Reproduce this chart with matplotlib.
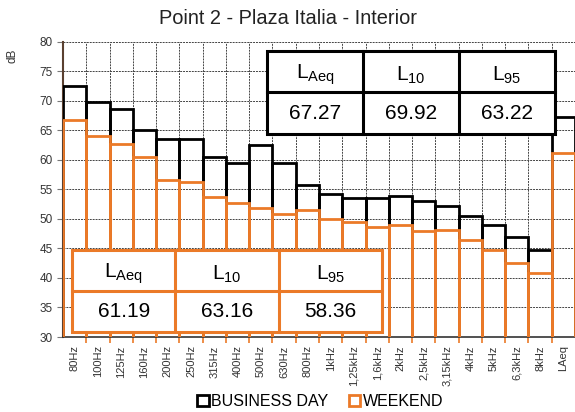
import matplotlib
matplotlib.use("Agg")
import matplotlib.pyplot as plt
from matplotlib.patches import Patch, Rectangle
import numpy as np

plt.rcParams['font.family'] = ['Liberation Sans', 'DejaVu Sans']
plt.rcParams['mathtext.fontset'] = 'custom'
plt.rcParams['mathtext.rm'] = 'Liberation Sans'

# data
bands = ['80Hz', '100Hz', '125Hz', '160Hz', '200Hz', '250Hz', '315Hz', '400Hz',
         '500Hz', '630Hz', '800Hz', '1kHz', '1,25kHz', '1,6kHz', '2kHz', '2,5kHz',
         '3,15kHz', '4kHz', '5kHz', '6,3kHz', '8kHz', 'LAeq']
business = [72.5, 69.8, 68.6, 65.0, 63.6, 63.5, 60.5, 59.4, 62.5, 59.5, 55.8,
            54.2, 53.5, 53.5, 53.8, 53.0, 52.2, 50.5, 49.0, 47.0, 44.8, 67.27]
weekend = [66.7, 64.0, 62.7, 60.5, 56.5, 56.2, 53.7, 52.7, 51.8, 50.8, 51.5,
           50.0, 49.5, 48.7, 48.9, 48.0, 48.1, 46.5, 44.7, 42.6, 40.8, 61.19]
stat_names = ['Aeq', '10', '95']
business_stats = ['67.27', '69.92', '63.22']
weekend_stats = ['61.19', '63.16', '58.36']

orange = '#EB7A28'

fig = plt.figure(figsize=(5.75, 4.12), dpi=100)
ax = fig.add_axes([0.1096, 0.182, 0.8904, 0.717])

x = np.arange(len(bands))
ax.bar(x, business, width=1.0, fill=False, edgecolor='black', linewidth=2.0, zorder=3)
ax.bar(x, weekend, width=1.0, fill=False, edgecolor=orange, linewidth=2.0, zorder=4)

ax.set_xlim(-0.5, len(bands) - 0.5)
ax.set_ylim(30, 80)
ax.set_yticks(np.arange(30, 81, 5))
ax.set_xticks(x)
ax.set_xticklabels(bands, rotation=90, fontsize=8, color='#333333')
ax.set_xticks(np.arange(0.5, len(bands) - 0.5, 1), minor=True)
ax.tick_params(axis='x', which='major', length=0, pad=6)
ax.tick_params(axis='x', which='minor', length=4, color=orange, width=1.2)
ax.tick_params(axis='y', labelsize=8.5, labelcolor='#333333', length=4, color='#777777')

ax.grid(True, axis='y', which='major', linestyle=(0, (2, 1)), color='#444444', linewidth=0.7, zorder=0)
ax.grid(True, axis='x', which='minor', linestyle=(0, (2, 1)), color='#444444', linewidth=0.7, zorder=0)
ax.set_axisbelow(True)
for s in ['top', 'right']:
    ax.spines[s].set_visible(False)
ax.spines['left'].set_color('#5a4030')
ax.spines['left'].set_linewidth(1.5)
ax.spines['bottom'].set_color('#333333')
ax.spines['bottom'].set_linewidth(1.2)

fig.text(0.501, 0.955, 'Point 2 - Plaza Italia - Interior', ha='center', va='center',
         fontsize=14.4, color='#222222')
fig.text(0.022, 0.865, 'dB', rotation=90, ha='center', va='center', fontsize=8.5, color='#333333')


def stat_table(rect, values, color):
    tax = fig.add_axes(rect)
    tax.set_xlim(0, 3)
    tax.set_ylim(0, 2)
    tax.axis('off')
    tax.add_patch(Rectangle((0, 0), 3, 2, facecolor='white', edgecolor=color,
                            linewidth=2.2, clip_on=False))
    tax.plot([0, 3], [1, 1], color=color, linewidth=2.2, clip_on=False)
    for i in (1, 2):
        tax.plot([i, i], [0, 2], color=color, linewidth=2.2, clip_on=False)
    for i, (name, val) in enumerate(zip(stat_names, values)):
        tax.text(i + 0.5, 1.42, r'L$_{\mathregular{' + name + '}}$', ha='center', va='center',
                 fontsize=15, color='black')
        tax.text(i + 0.5, 0.5, val, ha='center', va='center', fontsize=15, color='black')


stat_table([0.4643, 0.6748, 0.5009, 0.2015], business_stats, 'black')
stat_table([0.1252, 0.1942, 0.5391, 0.199], weekend_stats, orange)

handles = [Patch(facecolor='white', edgecolor='black', linewidth=2, label='BUSINESS DAY'),
           Patch(facecolor='white', edgecolor=orange, linewidth=2, label='WEEKEND')]
fig.legend(handles=handles, loc='center', bbox_to_anchor=(0.557, 0.026), ncol=2,
           frameon=False, fontsize=11.5, handlelength=0.7, handleheight=0.7,
           handletextpad=0.15, columnspacing=1.3)

fig.savefig('out.png', dpi=100)
